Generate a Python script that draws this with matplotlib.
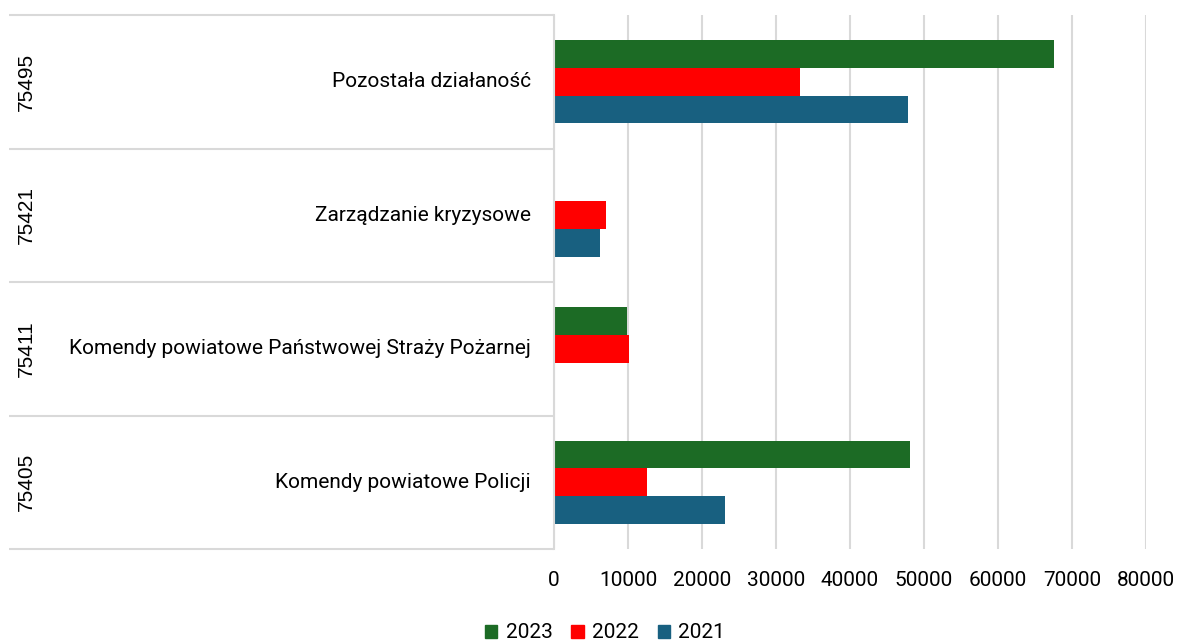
import matplotlib
matplotlib.use("Agg")
import matplotlib.pyplot as plt
import matplotlib.transforms as mtransforms
from matplotlib.patches import Patch
import numpy as np

# Data (bottom-to-top order, as in the chart)
codes = ["75405", "75411", "75421", "75495"]
names = ["Komendy powiatowe Policji",
         "Komendy powiatowe Państwowej Straży Pożarnej",
         "Zarządzanie kryzysowe",
         "Pozostała działaność"]
years = ["2023", "2022", "2021"]
v2023 = [48100, 9900, 0, 67500]
v2022 = [12500, 10100, 7050, 33200]
v2021 = [23150, 0, 6200, 47900]
ticks = [0, 10000, 20000, 30000, 40000, 50000, 60000, 70000, 80000]

c2023 = "#1C6B25"
c2022 = "#FF0000"
c2021 = "#186080"
grid_c = "#D9D9D9"
narrow = ["Roboto", "DejaVu Sans"]
regular = ["Liberation Sans", "DejaVu Sans"]

fig = plt.figure(figsize=(11.79, 6.44), dpi=100)
ax = fig.add_axes([554/1179, 1-549/644, (1146-554)/1179, (549-15)/644])

y = np.arange(len(codes))
w = 0.207
ax.barh(y + w, v2023, height=w, color=c2023, edgecolor="none")
ax.barh(y, v2022, height=w, color=c2022, edgecolor="none")
ax.barh(y - w, v2021, height=w, color=c2021, edgecolor="none")

ax.set_xlim(0, 80000)
ax.set_ylim(-0.5, len(codes) - 0.5)
ax.set_xticks(ticks)
ax.set_xticklabels([str(t) for t in ticks], fontfamily=narrow, fontsize=15)
ax.tick_params(axis="x", length=0, pad=16, colors="black")
ax.set_yticks([])
ax.grid(axis="x", color=grid_c, linewidth=1.5)
ax.set_axisbelow(True)
for s in ["top", "right", "bottom"]:
    ax.spines[s].set_visible(False)
ax.spines["left"].set_color(grid_c)
ax.spines["left"].set_linewidth(1.5)

# multi-level category axis
trans = mtransforms.blended_transform_factory(ax.transAxes, ax.transData)
x_left = (9 - 554) / (1146 - 554)
for b in np.arange(-0.5, len(codes), 1.0):
    ax.plot([x_left, 0], [b, b], transform=trans, color=grid_c,
            linewidth=1.5, clip_on=False, solid_capstyle="butt")
x_name = (531 - 554) / (1146 - 554)
x_code = (26 - 554) / (1146 - 554)
for i, (c, n) in enumerate(zip(codes, names)):
    ax.text(x_name, i, n, transform=trans, ha="right", va="center",
            fontsize=15, fontfamily=narrow, clip_on=False)
    ax.text(x_code, i, c, transform=trans, ha="center", va="center",
            rotation=90, fontsize=15, fontfamily=regular, clip_on=False)

handles = [Patch(color=c2023), Patch(color=c2022), Patch(color=c2021)]
fig.legend(handles, years, loc="center", bbox_to_anchor=(605/1179, 1-633/644),
           ncol=3, frameon=False, handlelength=0.6, handleheight=0.6,
           handletextpad=0.4, columnspacing=0.9,
           prop={"family": narrow, "size": 15})

fig.savefig("out.png", dpi=100)
